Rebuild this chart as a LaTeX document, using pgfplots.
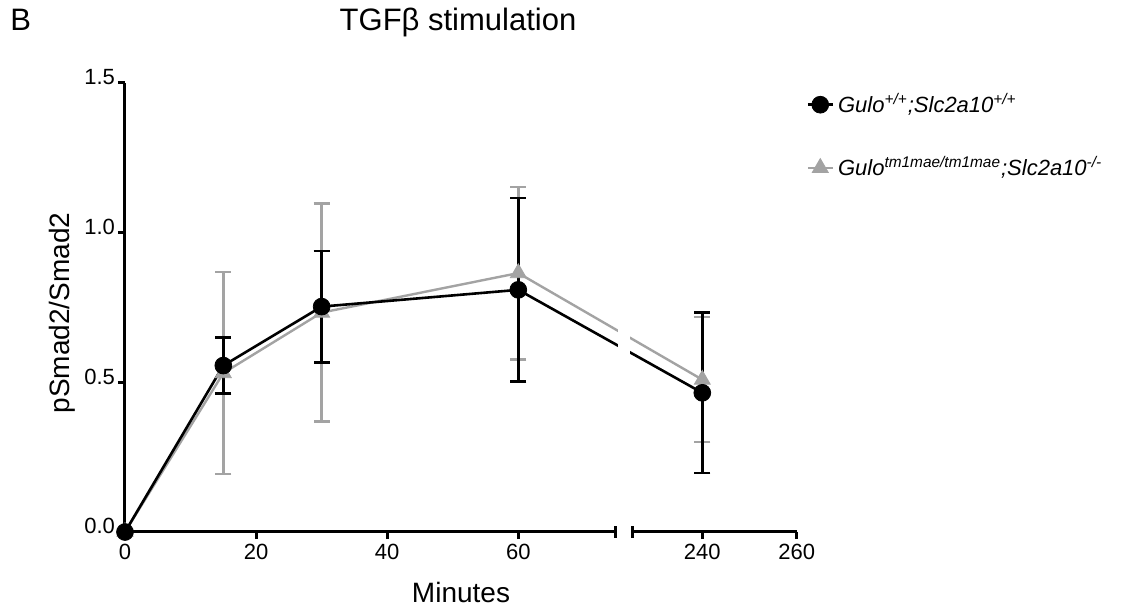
\documentclass[border=0pt]{standalone}
\usepackage{fontspec}
\setmainfont{Liberation Sans}
\usepackage{pgfplots}
\pgfplotsset{compat=1.18}
\definecolor{grayline}{RGB}{163,163,163}

\begin{document}
\begin{tikzpicture}[font=\fontsize{11}{13}\selectfont]
\begin{axis}[
  name=ax,
  at={(0,0)},
  scale only axis,
  width=335.85pt,
  height=224.5pt,
  xmin=0, xmax=260,
  ymin=0, ymax=1.5,
  % broken x axis: 0-75 and 225-260 on a compressed scale
  x coord trafo/.code={\pgfmathparse{#1>150 ? 0.72*#1-84.73 : #1}},
  axis x line=bottom,
  axis y line=left,
  x axis line style={draw=none},
  y axis line style={line width=1.5pt, -},
  xtick={0,20,40,60,240,260},
  xticklabels={0,20,40,60,240,260},
  ytick={0,0.5,1,1.5},
  yticklabels={0.0,0.5,1.0,1.5},
  tick style={black, line width=1.5pt},
  major tick length=3.5pt,
  tick align=outside,
  xticklabel style={yshift=1pt},
  yticklabel style={anchor=base east, xshift=2pt, yshift=-1pt},
  /pgf/number format/assume math mode=true,
  clip=false,
  reverse legend,
  legend style={
    at={(1.005,0.995)},
    anchor=north west,
    draw=none,
    fill=none,
    font=\fontsize{11}{13}\selectfont\itshape,
    row sep=16.5pt,
    cells={anchor=west}
  },
  legend image code/.code={
    \draw[mark repeat=2, mark phase=2] plot coordinates {(0cm,0cm) (0.22cm,0cm) (0.44cm,0cm)};
  }
]
% grey first so the black series lies on top
\addplot[
  color=grayline, line width=1.2pt,
  mark=triangle*, mark size=4.6pt, mark options={solid, fill=grayline, line width=0.4pt},
  error bars/.cd, y dir=both, y explicit,
  error bar style={line width=1.25pt},
  error mark options={rotate=90, mark size=4pt, line width=1.25pt}
] coordinates {
  (0,0) (15,0.531) +- (0,0.338) (30,0.733) +- (0,0.364)
  (60,0.865) +- (0,0.288) (240,0.509) +- (0,0.209)
};
\addlegendentry{Gulo\textsuperscript{tm1mae/tm1mae};Slc2a10\textsuperscript{-/-}}
\addplot[
  color=black, line width=1.3pt,
  mark=*, mark size=4.2pt, mark options={solid, fill=black, line width=0.4pt},
  error bars/.cd, y dir=both, y explicit,
  error bar style={line width=1.25pt},
  error mark options={rotate=90, mark size=4pt, line width=1.25pt}
] coordinates {
  (0,0) (15,0.556) +- (0,0.093) (30,0.753) +- (0,0.186)
  (60,0.809) +- (0,0.307) (240,0.465) +- (0,0.268)
};
\addlegendentry{Gulo\textsuperscript{+/+};Slc2a10\textsuperscript{+/+}}
% break in the data lines
\fill[white] (rel axis cs:0.734,0.25) rectangle (rel axis cs:0.752,0.75);
% broken x axis
\draw[line width=1.5pt] (rel axis cs:0,0) -- (rel axis cs:0.7295,0);
\draw[line width=1.5pt] (rel axis cs:0.7553,0) -- (rel axis cs:1,0);
\draw[line width=1.5pt] (rel axis cs:0.7295,0) ++(0,-3pt) -- ++(0,6pt);
\draw[line width=1.5pt] (rel axis cs:0.7553,0) ++(0,-3pt) -- ++(0,6pt);
\end{axis}
\node[anchor=base, inner sep=0, font=\fontsize{15.5}{18}\selectfont] at (166.5pt,250.5pt) {TGFβ stimulation};
\node[anchor=base west, inner sep=0, font=\fontsize{15.5}{18}\selectfont] at (-57.5pt,250.5pt) {B};
\node[rotate=90, inner sep=0, font=\fontsize{14}{16}\selectfont] at (-31.5pt,109.5pt) {pSmad2/Smad2};
\node[anchor=base, inner sep=0, font=\fontsize{14}{16}\selectfont] at (168pt,-35.5pt) {Minutes};
\pgfresetboundingbox
\path (-62.5pt,-39.5pt) rectangle (503.5pt,266pt);
\end{tikzpicture}
\end{document}
